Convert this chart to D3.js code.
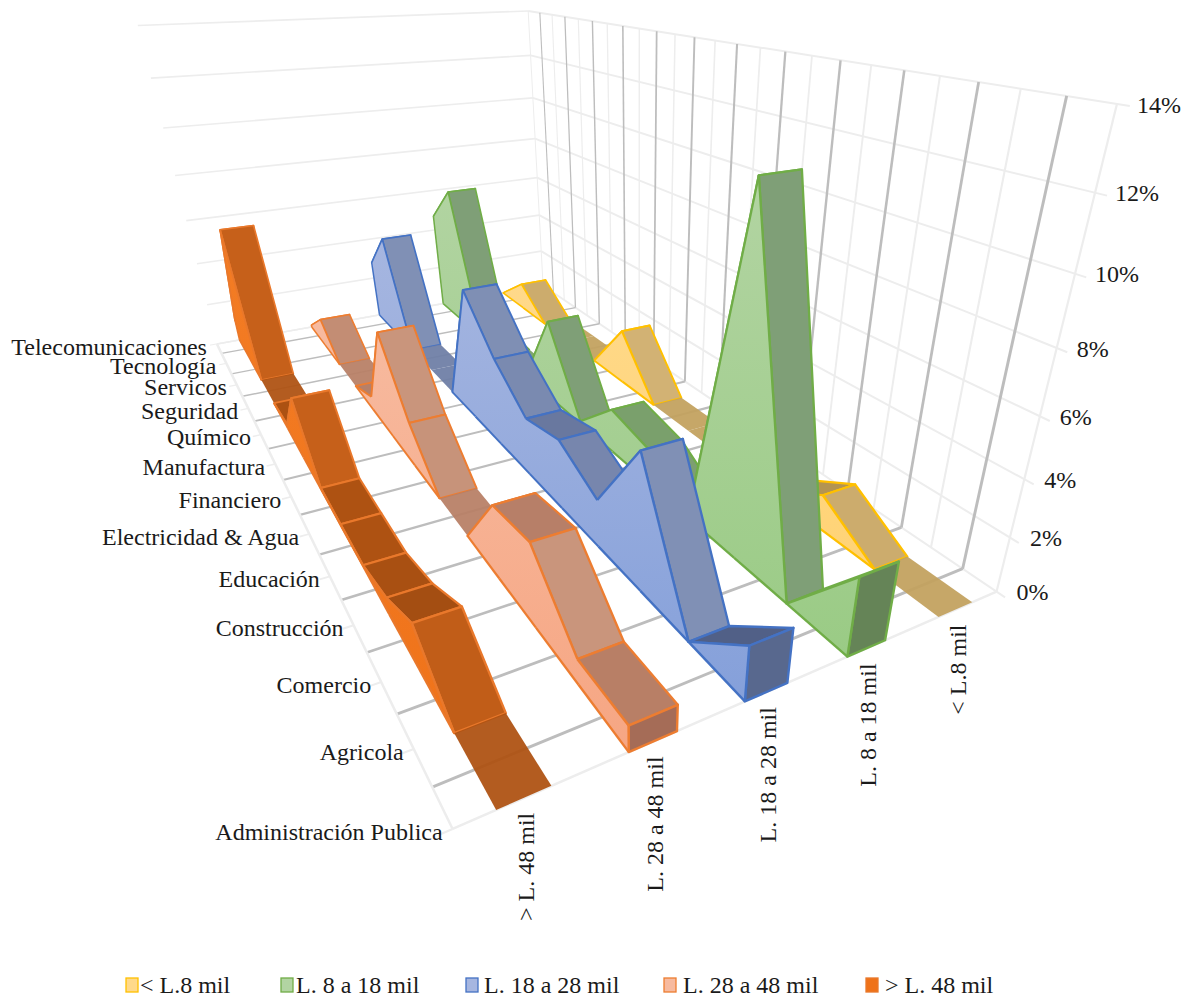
<!DOCTYPE html>
<html><head><meta charset="utf-8">
<script src="https://cdnjs.cloudflare.com/ajax/libs/d3/7.8.5/d3.min.js"></script>
<style>html,body{margin:0;padding:0;background:#fff}text{font-family:"Liberation Serif",serif;fill:#1a1a1a}</style>
</head><body><svg id="c" width="1195" height="999"></svg>
<script>
const categories=["Administración Publica","Agricola","Comercio","Construcción","Educación","Electricidad & Agua","Financiero","Manufactura","Químico","Seguridad","Servicos","Tecnología","Telecomunicaciones"];
const seriesNames=["> L. 48 mil","L. 28 a 48 mil","L. 18 a 28 mil","L. 8 a 18 mil","< L.8 mil"];
const legendNames=["< L.8 mil","L. 8 a 18 mil","L. 18 a 28 mil","L. 28 a 48 mil","> L. 48 mil"];
const over48=[0,0,1.6,0.6,0.05,0.05,0.05,2.5,0.2,0,0,6.1,1];
const from28=[0.9,0.9,3,2.7,0,0,1.8,4.4,0.6,0,0,1.3,0.1];
const from18=[1.9,0,4.9,1.8,2.7,2.3,3.6,5.45,0,0,0,4.7,2.8];
const from8=[2.75,0,12,0.2,1.4,1.8,0.1,3.5,0,0,0.2,6.5,4.7];
const under8=[0,0,1.3,0.1,0,0,0,2.4,0,0,0,1.3,0];
const valueTicks=[0,2,4,6,8,10,12,14];
const allValues=[over48,from28,from18,from8,under8];
const palette=[
 {line:"#E9782B",f0:"#F37C24",f1:"#EF7219",dark:"#9A4A12",flat:"#AE5212",steep:"#C6601A"},
 {line:"#ED7D31",f0:"#F7BA9F",f1:"#F6A683",dark:"#B08270",flat:"#B87F66",steep:"#C9957C"},
 {line:"#4472C4",f0:"#A6B6E0",f1:"#85A0DA",dark:"#4F5E85",flat:"#6F7EA6",steep:"#8090B5"},
 {line:"#70AD47",f0:"#B2D4A2",f1:"#9ACB85",dark:"#6F9560",flat:"#79A069",steep:"#7F9F77"},
 {line:"#FFC000",f0:"#FFD98A",f1:"#FFD272",dark:"#A98A4A",flat:"#C2A25F",steep:"#D2B274"}];
const capColor=["#A05A20","#A56C57","#58688E","#658457","#BFA05F"];

const uS=d3.scaleLinear().domain([0,12]).range([0,1]);
const vS=d3.scaleLinear().domain([0,5]).range([0,1]);
const wS=d3.scaleLinear().domain([0,14]).range([0,1]);
// camera calibration: the plot box corners
const box=[[0,0,0,452,830],[0,1,0,997,590],[1,0,0,217,343],[1,1,0,543,287],[0,1,1,1117,105],[1,0,1,138,26],[1,1,1,528,10]];
function solveCamera(){
  const A=[],b=[];
  box.forEach(([U,V,W,x,y])=>{
    const X=x/1000,Y=y/1000;
    A.push([U,V,W,1,0,0,0,0,-X*U,-X*V,-X*W]);b.push(X);
    A.push([0,0,0,0,U,V,W,1,-Y*U,-Y*V,-Y*W]);b.push(Y);
  });
  const n=11,M=d3.range(n).map(r=>d3.range(n+1).map(c=>{
    if(c<n)return d3.sum(A,a=>a[r]*a[c]);
    return d3.sum(A,(a,k)=>a[r]*b[k]);}));
  for(let i=0;i<n;i++){
    let p=i;for(let r=i+1;r<n;r++)if(Math.abs(M[r][i])>Math.abs(M[p][i]))p=r;
    [M[i],M[p]]=[M[p],M[i]];
    for(let r=0;r<n;r++)if(r!==i){const f=M[r][i]/M[i][i];for(let c=i;c<=n;c++)M[r][c]-=f*M[i][c];}
  }
  return M.map((r,i)=>r[n]/r[i]);
}
const P=solveCamera();
function proj(i,v,val){
  const U=uS(i),V=vS(v),W=wS(val);
  const d=P[8]*U+P[9]*V+P[10]*W+1;
  return [1000*(P[0]*U+P[1]*V+P[2]*W+P[3])/d,1000*(P[4]*U+P[5]*V+P[6]*W+P[7])/d];
}
const svg=d3.select("#c");
const defs=svg.append("defs");
const lw=(i,a,b)=>a+(b-a)*uS(i);
function seg(g,p,q,c,w){g.append("line").attr("x1",p[0]).attr("y1",p[1]).attr("x2",q[0]).attr("y2",q[1]).attr("stroke",c).attr("stroke-width",w);}
const grid=svg.append("g");
const LIGHT="#EDEDED",DARK="#BDBDBD";
valueTicks.forEach(t=>{
  seg(grid,proj(-0.12,5,t),proj(12,5,t),LIGHT,2);
  seg(grid,proj(12,0,t),proj(12,5,t),LIGHT,1.6);
});
d3.range(0,13).forEach(i=>{
  seg(grid,proj(i,5,0),proj(i,5,14),LIGHT,lw(i,2.2,1));
  seg(grid,proj(i,-0.09,0),proj(i,0,0),LIGHT,lw(i,2.2,1));
});
d3.range(0.5,12,1).forEach(i=>{
  seg(grid,proj(i,0,0),proj(i,5,0),DARK,lw(i,3,1.2));
  seg(grid,proj(i,5,0),proj(i,5,14),DARK,lw(i,3,1));
});
seg(grid,proj(0,0,0),proj(0,5,0),LIGHT,2.5);
seg(grid,proj(0,0,0),proj(12,0,0),LIGHT,2.5);
seg(grid,proj(12,0,0),proj(12,5,0),LIGHT,1.5);

const line=d3.line();
const plot=svg.append("g").attr("stroke-linejoin","round");
[4,3,2,1,0].forEach(s=>{
  const vals=allValues[s],c=palette[s],v0=s+0.3,v1=s+0.7,g=plot.append("g");
  const grad=defs.append("linearGradient").attr("id","f"+s).attr("x1",0).attr("x2",0).attr("y1",0).attr("y2",1);
  grad.append("stop").attr("offset",0).attr("stop-color",c.f0);
  grad.append("stop").attr("offset",1).attr("stop-color",c.f1);
  for(let i=11;i>=0;i--){
    const d=vals[i]-vals[i+1],t=Math.min(Math.abs(d)/2,1);
    const fill=d3.interpolateRgb(c.flat,d>0?c.dark:c.steep)(t);
    const isFlat=vals[i]<0.02&&vals[i+1]<0.02;
    g.append("path")
     .attr("d",line([proj(i,v0,vals[i]),proj(i+1,v0,vals[i+1]),proj(i+1,v1,vals[i+1]),proj(i,v1,vals[i])])+"Z")
     .attr("fill",fill).attr("fill-opacity",isFlat?0.94:1)
     .attr("stroke",isFlat?"none":c.line).attr("stroke-width",isFlat?0:lw(i,2.4,1.5));
  }
  if(vals[0]>0.02){
    g.append("path").attr("d",line([proj(0,v0,0),proj(0,v0,vals[0]),proj(0,v1,vals[0]),proj(0,v1,0)])+"Z")
     .attr("fill",capColor[s]).attr("stroke",c.line).attr("stroke-width",2.4);
  }
  const top=vals.map((y,i)=>proj(i,v0,y)),bottom=vals.map((y,i)=>proj(i,v0,0)).reverse();
  g.append("path").attr("d",line(top.concat(bottom))+"Z").attr("fill",`url(#f${s})`).attr("stroke","none");
  vals.forEach((y,i)=>{
    if(i<12&&(y>0.02||vals[i+1]>0.02))seg(g,proj(i,v0,y),proj(i+1,v0,vals[i+1]),c.line,lw(i,2.4,1.5));
    if(i<12&&(y>0.02||vals[i+1]>0.02))seg(g,proj(i,v0,0),proj(i+1,v0,0),c.line,lw(i,2.4,1.5));
  });
  if(vals[0]>0.02)seg(g,proj(0,v0,0),proj(0,v0,vals[0]),c.line,2.4);
  if(vals[12]>0.02)seg(g,proj(12,v0,0),proj(12,v0,vals[12]),c.line,1.5);
});

const FS=24;
const labels=svg.append("g").attr("font-size",FS);
categories.forEach((n,i)=>{
  const p=proj(i,0,0);
  labels.append("text").attr("x",p[0]-10).attr("y",p[1]+3).attr("dy","0.32em").attr("text-anchor","end").text(n);
});
valueTicks.forEach(t=>{
  const p=proj(0,5,t);
  labels.append("text").attr("x",p[0]+20).attr("y",p[1]+1).attr("dy","0.32em").text(t+"%");
});
seriesNames.forEach((n,s)=>{
  const p=proj(0,s+0.5,0);
  labels.append("text").attr("transform",`translate(${p[0]+10},${p[1]+15}) rotate(-90)`).attr("text-anchor","end").text(n);
});
const legendX=[126,281,466,664,866],legendTextX=[140,296,484,683,885];
[4,3,2,1,0].forEach((s,k)=>{
  svg.append("rect").attr("x",legendX[k]).attr("y",978).attr("width",12).attr("height",14)
    .attr("fill",s===0?palette[0].f1:palette[s].f0).attr("stroke",palette[s].line).attr("stroke-width",1.3);
  labels.append("text").attr("x",legendTextX[k]).attr("y",985).attr("dy","0.32em").text(legendNames[k]);
});
</script></body></html>
